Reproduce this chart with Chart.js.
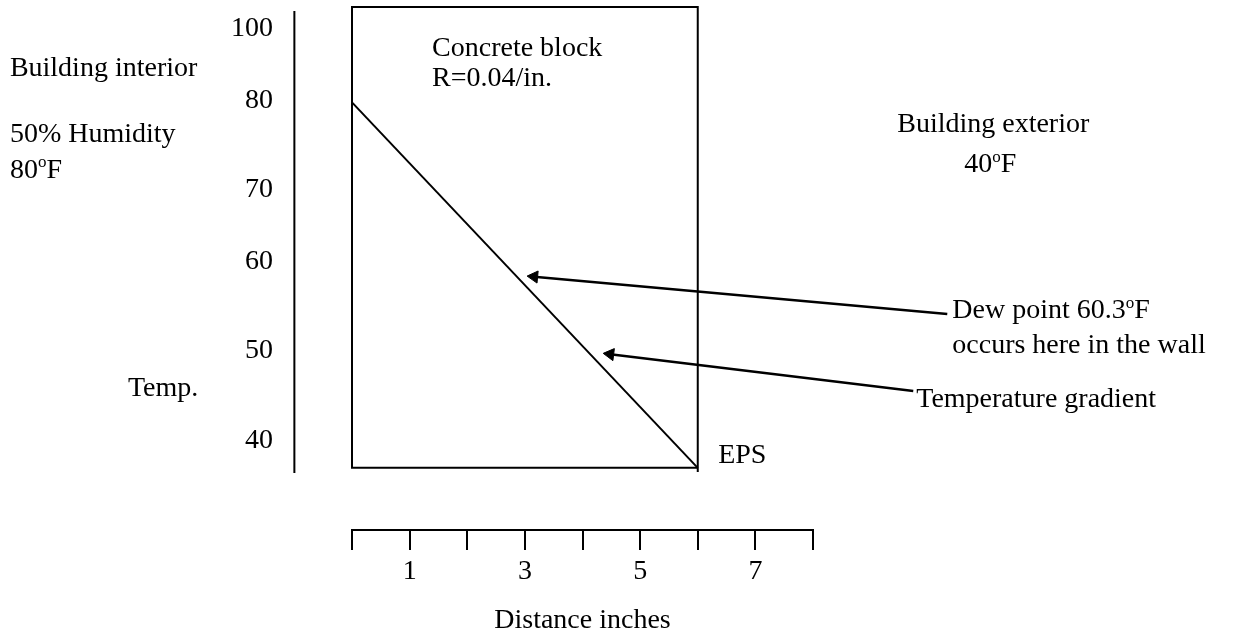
<!DOCTYPE html>
<html><head><meta charset="utf-8">
<script src="https://cdn.jsdelivr.net/npm/chart.js@4.4.1/dist/chart.umd.min.js"></script>
<style>html,body{margin:0;padding:0;background:#fff;overflow:hidden}#wrap{width:1238px;height:635px;position:relative}</style>
</head><body><div id="wrap"><canvas id="c" width="1238" height="635"></canvas></div>
<script>
// ---------- data ----------
// distance ruler (inches)
const distanceTicks = [0, 1, 2, 3, 4, 5, 6, 7, 8];
const distanceTickLabels = ['', '1', '', '3', '', '5', '', '7', ''];
// temperature axis labels as printed (the sketch is not drawn to scale; blanks are spacing slots)
const tempTickLabels = ['', '100', '', '', '', '80', '', '', '', '', '70', '', '', '', '60', '', '', '', '', '50', '', '', '', '', '40', '', '', '', '', ''];
// temperature gradient through the concrete block (inches, deg F)
const gradientX = [0, 6];
const gradientTemp = [80, 40];
// concrete block outline (inches, deg F)
const wallX = [6, 6, 0, 0, 6];
const wallTemp = [39.56, 90.44, 90.44, 40, 40];
// temperature axis line
const tempAxisX = [-1, -1];
const tempAxisTemp = [90, 39.44];
// callout arrows (tail -> head)
const dewArrowX = [10.33, 3.16];
const dewArrowTemp = [56.83, 60.92];
const gradArrowX = [9.74, 4.48];
const gradArrowTemp = [48.41, 52.44];

const pts = (xs, ys) => xs.map((v, i) => ({x: v, y: ys[i]}));

const notes = [
  {x: 1.389, y: 85.84, align: 'left', parts: ['Concrete block']},
  {x: 1.389, y: 82.56, align: 'left', parts: ['R=0.04/in.']},
  {x: -5.937, y: 83.65, align: 'left', parts: ['Building interior']},
  {x: -5.937, y: 76.43, align: 'left', parts: ['50% Humidity']},
  {x: -5.937, y: 72.49, align: 'left', parts: ['80', {sup: 'o'}, 'F']},
  {x: -3.889, y: 48.62, align: 'left', parts: ['Temp.']},
  {x: 11.128, y: 77.52, align: 'center', parts: ['Building exterior']},
  {x: 11.076, y: 73.14, align: 'center', parts: ['40', {sup: 'o'}, 'F']},
  {x: 10.417, y: 57.16, align: 'left', parts: ['Dew point 60.3', {sup: 'o'}, 'F']},
  {x: 10.417, y: 53.33, align: 'left', parts: ['occurs here in the wall']},
  {x: 9.792, y: 47.42, align: 'left', parts: ['Temperature gradient']},
  {x: 6.354, y: 41.29, align: 'left', parts: ['EPS']}
];

const FONT = '"Liberation Serif", "Times New Roman", serif';
const SIZE = 28;
Chart.defaults.font.family = FONT;
Chart.defaults.font.size = SIZE;
Chart.defaults.color = '#000';

const notesPlugin = {
  id: 'notes',
  afterDatasetsDraw(chart) {
    const {ctx} = chart;
    const xs = chart.scales.x, ys = chart.scales.y;
    ctx.save();
    ctx.fillStyle = '#000';
    ctx.textBaseline = 'middle';
    ctx.textAlign = 'left';
    for (const n of notes) {
      const px = xs.getPixelForValue(n.x), py = ys.getPixelForValue(n.y);
      const segs = n.parts.map(p => typeof p === 'string' ? {t: p, sup: false} : {t: p.sup, sup: true});
      let w = 0;
      for (const s of segs) {
        ctx.font = (s.sup ? Math.round(SIZE * 0.62) : SIZE) + 'px ' + FONT;
        s.w = ctx.measureText(s.t).width; w += s.w;
      }
      let cx = n.align === 'center' ? px - w / 2 : px;
      for (const s of segs) {
        ctx.font = (s.sup ? Math.round(SIZE * 0.62) : SIZE) + 'px ' + FONT;
        ctx.fillText(s.t, cx, s.sup ? py - 8 : py);
        cx += s.w;
      }
    }
    ctx.restore();
  }
};

const lineDs = (data, width) => ({
  data, borderColor: '#000', borderWidth: width, pointRadius: 0, fill: false,
  tension: 0, clip: false, borderJoinStyle: 'miter', borderCapStyle: 'butt', yAxisID: 'y', xAxisID: 'x'
});
const arrowDs = (data, rot) => Object.assign(lineDs(data, 2.5), {
  pointStyle: 'triangle', pointRadius: [0, 7], pointRotation: [0, rot],
  pointBackgroundColor: '#000', pointBorderColor: '#000', pointBorderWidth: 1
});

new Chart(document.getElementById('c'), {
  type: 'line',
  data: {
    datasets: [
      lineDs(pts(tempAxisX, tempAxisTemp), 2),
      lineDs(pts(wallX, wallTemp), 2),
      lineDs(pts(gradientX, gradientTemp), 2),
      arrowDs(pts(dewArrowX, dewArrowTemp), 275.2),
      arrowDs(pts(gradArrowX, gradArrowTemp), 277)
    ]
  },
  options: {
    responsive: false,
    animation: false,
    events: [],
    layout: {padding: {top: 11, right: 425, bottom: 0, left: 0}},
    plugins: {legend: {display: false}, tooltip: {enabled: false}},
    scales: {
      x: {
        type: 'linear', min: 0, max: 8, position: 'bottom',
        afterBuildTicks: s => { s.ticks = distanceTicks.map(v => ({value: v})); },
        afterFit: s => { s.height = 105; s.paddingLeft = 0; s.paddingRight = 0; },
        ticks: {autoSkip: false, maxRotation: 0, padding: 5, color: '#000', font: {size: SIZE},
          callback: v => { const i = distanceTicks.indexOf(v); return i >= 0 ? distanceTickLabels[i] : ''; }},
        grid: {display: true, drawOnChartArea: false, drawTicks: true, tickLength: 20, color: '#000', lineWidth: 2},
        border: {display: true, color: '#000', width: 2},
        title: {display: true, text: 'Distance inches', color: '#000', font: {size: SIZE, lineHeight: 1}, padding: 0}
      },
      y: {type: 'linear', min: 33.2, max: 90, display: false},
      yl: {
        type: 'category', labels: tempTickLabels, position: 'left', offset: false,
        afterFit: s => { s.width = 352; s.paddingTop = 0; s.paddingBottom = 0; },
        grid: {display: false, drawTicks: false}, border: {display: false},
        ticks: {autoSkip: false, padding: 79, color: '#000', font: {size: SIZE}}
      }
    }
  },
  plugins: [notesPlugin]
});
</script>
</body></html>
